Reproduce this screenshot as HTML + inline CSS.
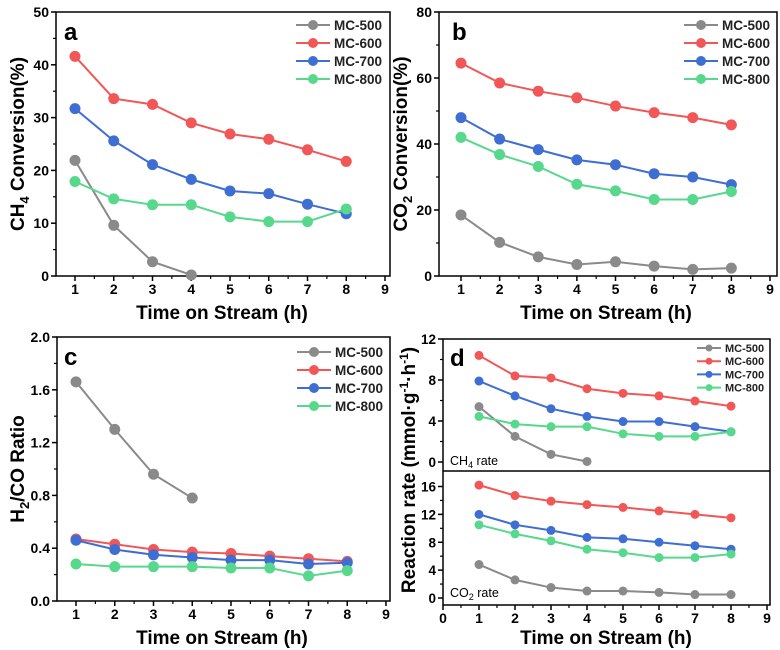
<!DOCTYPE html>
<html><head><meta charset="utf-8"><style>
html,body{margin:0;padding:0;background:#fff;}
svg{display:block;font-family:"Liberation Sans",Arial,sans-serif;font-weight:bold;}
</style></head><body>
<svg id="fig" width="780" height="650" viewBox="0 0 780 650" xmlns="http://www.w3.org/2000/svg"></svg>
<script>
const xCats=[1,2,3,4,5,6,7,8];
const seriesNames=["MC-500","MC-600","MC-700","MC-800"];
const colors=["#8a8a8a","#f25757","#3f6ed2","#58d88d"];
// panel a: CH4 conversion
const aMC500=[21.9,9.6,2.7,0.2];
const aMC600=[41.6,33.6,32.5,29,26.9,25.9,23.9,21.7];
const aMC700=[31.7,25.6,21.1,18.3,16.1,15.6,13.6,11.8];
const aMC800=[17.9,14.6,13.5,13.5,11.2,10.3,10.3,12.7];
const aTicks=[0,10,20,30,40,50];
// panel b: CO2 conversion
const bMC500=[18.5,10.2,5.8,3.5,4.3,3,2,2.4];
const bMC600=[64.5,58.5,56,54,51.5,49.5,48,45.8];
const bMC700=[48,41.5,38.3,35.2,33.7,31,30,27.7];
const bMC800=[42,36.8,33.2,27.8,25.8,23.2,23.2,25.6];
const bTicks=[0,20,40,60,80];
// panel c: H2/CO
const cMC500=[1.66,1.30,0.96,0.78];
const cMC600=[0.47,0.43,0.39,0.37,0.36,0.34,0.32,0.30];
const cMC700=[0.46,0.39,0.35,0.33,0.31,0.31,0.28,0.29];
const cMC800=[0.28,0.26,0.26,0.26,0.25,0.25,0.19,0.23];
const cTicks=["0.0","0.4","0.8","1.2","1.6","2.0"];
// panel d upper: CH4 rate
const dUMC500=[5.4,2.5,0.75,0.05];
const dUMC600=[10.4,8.4,8.2,7.15,6.7,6.45,5.95,5.45];
const dUMC700=[7.9,6.45,5.2,4.45,3.95,3.95,3.45,2.95];
const dUMC800=[4.45,3.7,3.45,3.45,2.75,2.5,2.5,2.95];
const dUTicks=[0,4,8,12];
// panel d lower: CO2 rate
const dLMC500=[4.8,2.6,1.5,1.0,1.0,0.8,0.5,0.5];
const dLMC600=[16.2,14.7,13.9,13.4,13,12.5,12,11.5];
const dLMC700=[12,10.5,9.7,8.7,8.5,8,7.5,7];
const dLMC800=[10.5,9.2,8.2,7,6.5,5.8,5.8,6.3];
const dLTicks=[0,4,8,12,16];
const xTickLabels=[1,2,3,4,5,6,7,8,9];
const xTickLabelsD=[0,1,2,3,4,5,6,7,8,9];

const NS="http://www.w3.org/2000/svg";
const svg=document.getElementById('fig');
function el(tag,attrs,parent,text){const e=document.createElementNS(NS,tag);for(const k in attrs)e.setAttribute(k,attrs[k]);if(text!==undefined)e.textContent=text;(parent||svg).appendChild(e);return e;}

function makeX(px1,px9){return v=>px1+(v-1)*(px9-px1)/8;}
function makeY(p0,pMax,max){return v=>p0-(v/max)*(p0-pMax);}

function drawFrame(g,L,T,R,B){
  const f=el('rect',{x:L,y:T,width:R-L,height:B-T,fill:'none',stroke:'#000','stroke-width':1.5},g);
  
  
}
function drawYTicks(g,L,ys,ticks,minorPerMajor,nameBase,fs){
  ticks.forEach((t,i)=>{
    const y=ys(parseFloat(t));
    el('line',{x1:L-5,x2:L,y1:y,y2:y,stroke:'#000','stroke-width':1.5},g);
    const tx=el('text',{x:L-7,y:y+5,'text-anchor':'end','font-size':fs||14},g,t);
    
    
    if(i<ticks.length-1){
      const y2=ys(parseFloat(ticks[i+1]));
      el('line',{x1:L-3,x2:L,y1:(y+y2)/2,y2:(y+y2)/2,stroke:'#000','stroke-width':1.2},g);
    }
  });
}
function drawXTicks(g,B,xs,labels,nameBase){
  labels.forEach((t,i)=>{
    const x=xs(t);
    el('line',{x1:x,x2:x,y1:B,y2:B+5,stroke:'#000','stroke-width':1.5},g);
    if(i<labels.length-1){const xm=xs(t+0.5);el('line',{x1:xm,x2:xm,y1:B,y2:B+3,stroke:'#000','stroke-width':1.2},g);}
    const tx=el('text',{x:x,y:B+18,'text-anchor':'middle','font-size':14},g,String(t));
    
    
  });
}
function drawSeries(g,xs,ys,data,color,name,r){
  const pts=data.map((v,i)=>xs(xCats[i])+','+ys(v)).join(' ');
  const pl=el('polyline',{points:pts,fill:'none',stroke:color,'stroke-width':2},g);
  
  
  data.forEach((v,i)=>{
    const c=el('circle',{cx:xs(xCats[i]),cy:ys(v),r:r||5.5,fill:color},g);
    
    
  });
}
function drawLegend(g,x,y0,dy,fs,len,r){
  seriesNames.forEach((n,i)=>{
    const y=y0+i*dy;
    const lg=el('g',{},g);
    
    
    el('line',{x1:x,x2:x+len,y1:y,y2:y,stroke:colors[i],'stroke-width':2},lg);
    el('circle',{cx:x+len/2,cy:y,r:r,fill:colors[i]},lg);
    el('text',{x:x+len+4,y:y+fs*0.36,'font-size':fs,fill:'#222'},lg,n);
  });
}
function titleX(g,x,y){const t=el('text',{x:x,y:y,'text-anchor':'middle','font-size':19},g,'Time on Stream (h)');}
function letter(g,x,y,s){const t=el('text',{x:x,y:y,'font-size':24},g,s);}

// ---- Panel a
(function(){
  const g=el('g',{});  
  const L=56,T=12,R=390,B=276; const xs=makeX(75,385), ys=makeY(276,12,50);
  drawYTicks(g,L,ys,aTicks.map(String),1,'a-y');
  drawXTicks(g,B,xs,xTickLabels,'a-x');
  drawFrame(g,L,T,R,B);
  [aMC500,aMC600,aMC700,aMC800].forEach((d,i)=>drawSeries(g,xs,ys,d,colors[i],'a-'+seriesNames[i].toLowerCase()));
  drawLegend(g,296,25,18,13.5,34,5);
  letter(g,64,40,'a'); titleX(g,222,319);
  const yt=el('text',{transform:'translate(24,144) rotate(-90)','text-anchor':'middle','font-size':19},g);
   
  el('tspan',{},yt,'CH'); el('tspan',{'font-size':13,dy:5},yt,'4'); el('tspan',{dy:-5},yt,' Conversion(%)');
})();
// ---- Panel b
(function(){
  const g=el('g',{});  
  const L=439,T=12,R=777,B=276; const xs=makeX(461,770), ys=makeY(276,12,80);
  drawYTicks(g,L,ys,bTicks.map(String),1,'b-y');
  drawXTicks(g,B,xs,xTickLabels,'b-x');
  drawFrame(g,L,T,R,B);
  [bMC500,bMC600,bMC700,bMC800].forEach((d,i)=>drawSeries(g,xs,ys,d,colors[i],'b-'+seriesNames[i].toLowerCase()));
  drawLegend(g,684,25,18,13.5,34,5);
  letter(g,452,40,'b'); titleX(g,606,319);
  const yt=el('text',{transform:'translate(407,144) rotate(-90)','text-anchor':'middle','font-size':19},g);
   
  el('tspan',{},yt,'CO'); el('tspan',{'font-size':13,dy:5},yt,'2'); el('tspan',{dy:-5},yt,' Conversion(%)');
})();
// ---- Panel c
(function(){
  const g=el('g',{});  
  const L=57,T=337,R=390,B=601; const xs=makeX(76,386), ys=makeY(601,337,2.0);
  drawYTicks(g,L,ys,cTicks,1,'c-y');
  drawXTicks(g,B,xs,xTickLabels,'c-x');
  drawFrame(g,L,T,R,B);
  [cMC500,cMC600,cMC700,cMC800].forEach((d,i)=>drawSeries(g,xs,ys,d,colors[i],'c-'+seriesNames[i].toLowerCase()));
  drawLegend(g,297,352,18,13.5,34,5);
  letter(g,64,365,'c'); titleX(g,222,644);
  const yt=el('text',{transform:'translate(24,469) rotate(-90)','text-anchor':'middle','font-size':19},g);
   
  el('tspan',{},yt,'H'); el('tspan',{'font-size':13,dy:5},yt,'2'); el('tspan',{dy:-5},yt,'/CO Ratio');
})();
// ---- Panel d
(function(){
  const g=el('g',{});  
  const L=443,R=770,T=339,M=471,B=605; const xs=makeX(479,767);
  const yu=makeY(462,339,12), yl=makeY(598,486.5,16);
  drawYTicks(g,L,yu,dUTicks.map(String),1,'d-upper-y',13.5);
  drawYTicks(g,L,yl,dLTicks.map(String),1,'d-lower-y',13.5);
  drawXTicks(g,B,xs,xTickLabelsD,'d-x');
  drawFrame(g,L,T,R,B);
  el('line',{x1:L,x2:R,y1:M,y2:M,stroke:'#000','stroke-width':1.5},g);
  [dUMC500,dUMC600,dUMC700,dUMC800].forEach((d,i)=>drawSeries(g,xs,yu,d,colors[i],'d-ch4-'+seriesNames[i].toLowerCase(),4.5));
  [dLMC500,dLMC600,dLMC700,dLMC800].forEach((d,i)=>drawSeries(g,xs,yl,d,colors[i],'d-co2-'+seriesNames[i].toLowerCase(),4.5));
  drawLegend(g,697,348,13.2,11,24,3.5);
  letter(g,450,366,'d'); titleX(g,606,644);
  const t1=el('text',{x:450,y:465,'font-size':12.5,'font-weight':'normal'},g);
   
  el('tspan',{},t1,'CH'); el('tspan',{'font-size':9,dy:3},t1,'4'); el('tspan',{dy:-3},t1,' rate');
  const t2=el('text',{x:450,y:597,'font-size':12.5,'font-weight':'normal'},g);
   
  el('tspan',{},t2,'CO'); el('tspan',{'font-size':9,dy:3},t2,'2'); el('tspan',{dy:-3},t2,' rate');
  const yt=el('text',{transform:'translate(415,470) rotate(-90)','text-anchor':'middle','font-size':19},g);
   
  el('tspan',{},yt,'Reaction rate (mmol·g'); el('tspan',{'font-size':12,dy:-7},yt,'-1'); el('tspan',{dy:7},yt,'·h'); el('tspan',{'font-size':12,dy:-7},yt,'-1'); el('tspan',{dy:7},yt,')');
})();
</script>
</body></html>
